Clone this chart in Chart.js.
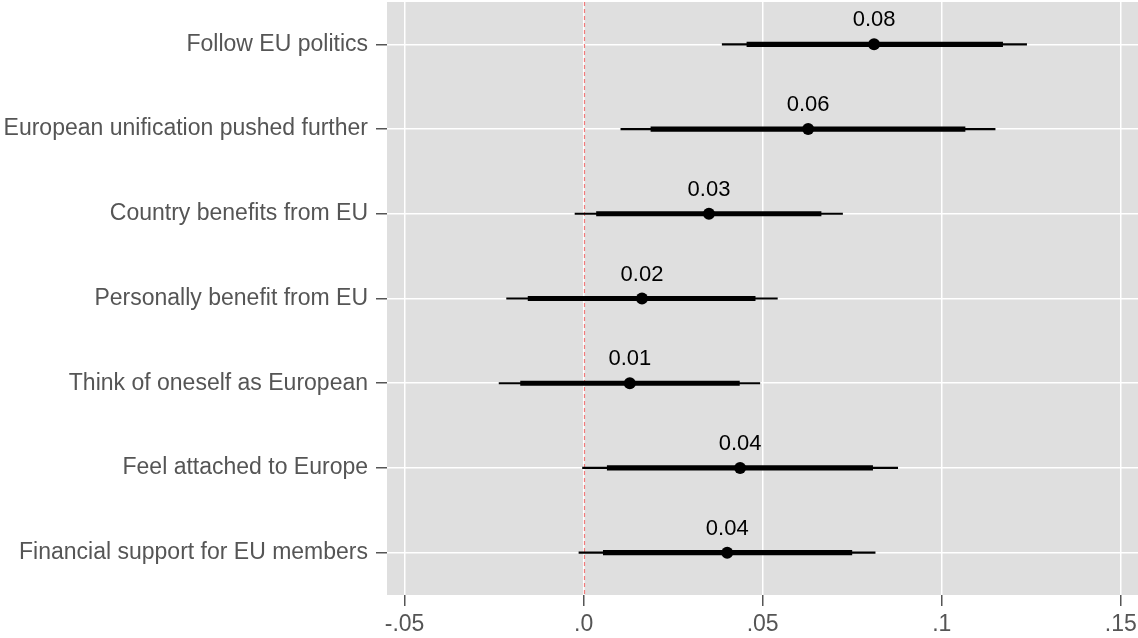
<!DOCTYPE html>
<html>
<head>
<meta charset="utf-8">
<script src="https://cdn.jsdelivr.net/npm/chart.js@4"></script>
<style>
  html, body { margin: 0; padding: 0; background: #fff; }
  #wrap { width: 1138px; height: 638px; position: relative; }
</style>
</head>
<body>
<div id="wrap"><canvas id="chart"></canvas></div>
<script>
// coefficient estimates with inner / outer intervals
const categories = [
  'Follow EU politics',
  'European unification pushed further',
  'Country benefits from EU',
  'Personally benefit from EU',
  'Think of oneself as European',
  'Feel attached to Europe',
  'Financial support for EU members'
];
const estimates  = [0.0811, 0.0627, 0.0350, 0.0163, 0.0129, 0.0437, 0.0401];
const outerLow   = [0.0387, 0.0104, -0.0024, -0.0215, -0.0236, -0.0003, -0.0013];
const outerHigh  = [0.1237, 0.1149, 0.0723, 0.0541, 0.0492, 0.0877, 0.0814];
const innerLow   = [0.0456, 0.0188, 0.0036, -0.0155, -0.0176, 0.0066, 0.0055];
const innerHigh  = [0.1170, 0.1065, 0.0663, 0.0479, 0.0435, 0.0807, 0.0749];
const valueLabels = ['0.08', '0.06', '0.03', '0.02', '0.01', '0.04', '0.04'];
const xTicks = [-0.05, 0, 0.05, 0.1, 0.15];
const xTickLabels = ['-.05', '.0', '.05', '.1', '.15'];
const refLine = 0;

const FONT = '"Liberation Sans", Arial, Helvetica, sans-serif';

const panelBg = {
  id: 'panelBg',
  beforeDraw(chart) {
    const {ctx, chartArea: a} = chart;
    ctx.save();
    ctx.fillStyle = '#DFDFDF';
    ctx.fillRect(a.left, a.top, a.right - a.left, a.bottom - a.top);
    ctx.restore();
  }
};

const zeroLine = {
  id: 'zeroLine',
  beforeDatasetsDraw(chart) {
    const {ctx, chartArea: a} = chart;
    const x = Math.round(chart.scales.x.getPixelForValue(refLine)) + 0.5;
    ctx.save();
    ctx.strokeStyle = '#F07A7A';
    ctx.lineWidth = 1.2;
    ctx.setLineDash([4, 3]);
    ctx.beginPath();
    ctx.moveTo(x, a.top);
    ctx.lineTo(x, a.bottom);
    ctx.stroke();
    ctx.restore();
  }
};

const pointLabels = {
  id: 'pointLabels',
  afterDatasetsDraw(chart) {
    const {ctx} = chart;
    const meta = chart.getDatasetMeta(2);
    ctx.save();
    ctx.fillStyle = '#000';
    ctx.font = '22px ' + FONT;
    ctx.textAlign = 'center';
    ctx.textBaseline = 'middle';
    meta.data.forEach((el, i) => {
      ctx.fillText(valueLabels[i], el.x, el.y - 24);
    });
    ctx.restore();
  }
};

new Chart(document.getElementById('chart'), {
  type: 'bar',
  data: {
    labels: categories,
    datasets: [
      {
        label: 'outer',
        data: categories.map((c, i) => [outerLow[i], outerHigh[i]]),
        backgroundColor: '#000',
        barThickness: 1.5,
        grouped: false,
        order: 3
      },
      {
        label: 'inner',
        data: categories.map((c, i) => [innerLow[i], innerHigh[i]]),
        backgroundColor: '#000',
        barThickness: 4.5,
        grouped: false,
        order: 2
      },
      {
        type: 'line',
        label: 'estimate',
        indexAxis: 'y',
        data: categories.map((c, i) => ({x: estimates[i], y: c})),
        showLine: false,
        pointRadius: 6,
        pointBackgroundColor: '#000',
        pointBorderWidth: 0,
        order: 1
      }
    ]
  },
  options: {
    indexAxis: 'y',
    responsive: true,
    maintainAspectRatio: false,
    animation: false,
    layout: { autoPadding: false, padding: { top: 2, right: 0, left: 0, bottom: 0 } },
    plugins: {
      legend: { display: false },
      tooltip: { enabled: false }
    },
    scales: {
      x: {
        type: 'linear',
        min: -0.0549,
        max: 0.1548,
        afterBuildTicks(scale) {
          scale.ticks = xTicks.map(v => ({value: v}));
        },
        afterFit(scale) {
          scale.height = 43;
          scale.paddingLeft = 0;
          scale.paddingRight = 0;
        },
        grid: {
          color: '#FFFFFF',
          lineWidth: 1.5,
          tickColor: '#555',
          tickLength: 11,
          drawTicks: true
        },
        border: { display: false },
        ticks: {
          color: '#555',
          font: { family: FONT, size: 23 },
          padding: 5,
          maxRotation: 0,
          callback(value) {
            const i = xTicks.findIndex(t => Math.abs(t - value) < 1e-9);
            return i >= 0 ? xTickLabels[i] : '';
          }
        }
      },
      y: {
        type: 'category',
        offset: true,
        afterFit(scale) {
          scale.width = 387;
          scale.paddingTop = 0;
          scale.paddingBottom = 0;
        },
        grid: {
          offset: false,
          color: '#FFFFFF',
          lineWidth: 1.5,
          tickColor: '#555',
          tickLength: 11
        },
        border: { display: false },
        ticks: {
          color: '#555',
          font: { family: FONT, size: 23 },
          padding: 8
        }
      }
    }
  },
  plugins: [panelBg, zeroLine, pointLabels]
});
</script>
</body>
</html>
